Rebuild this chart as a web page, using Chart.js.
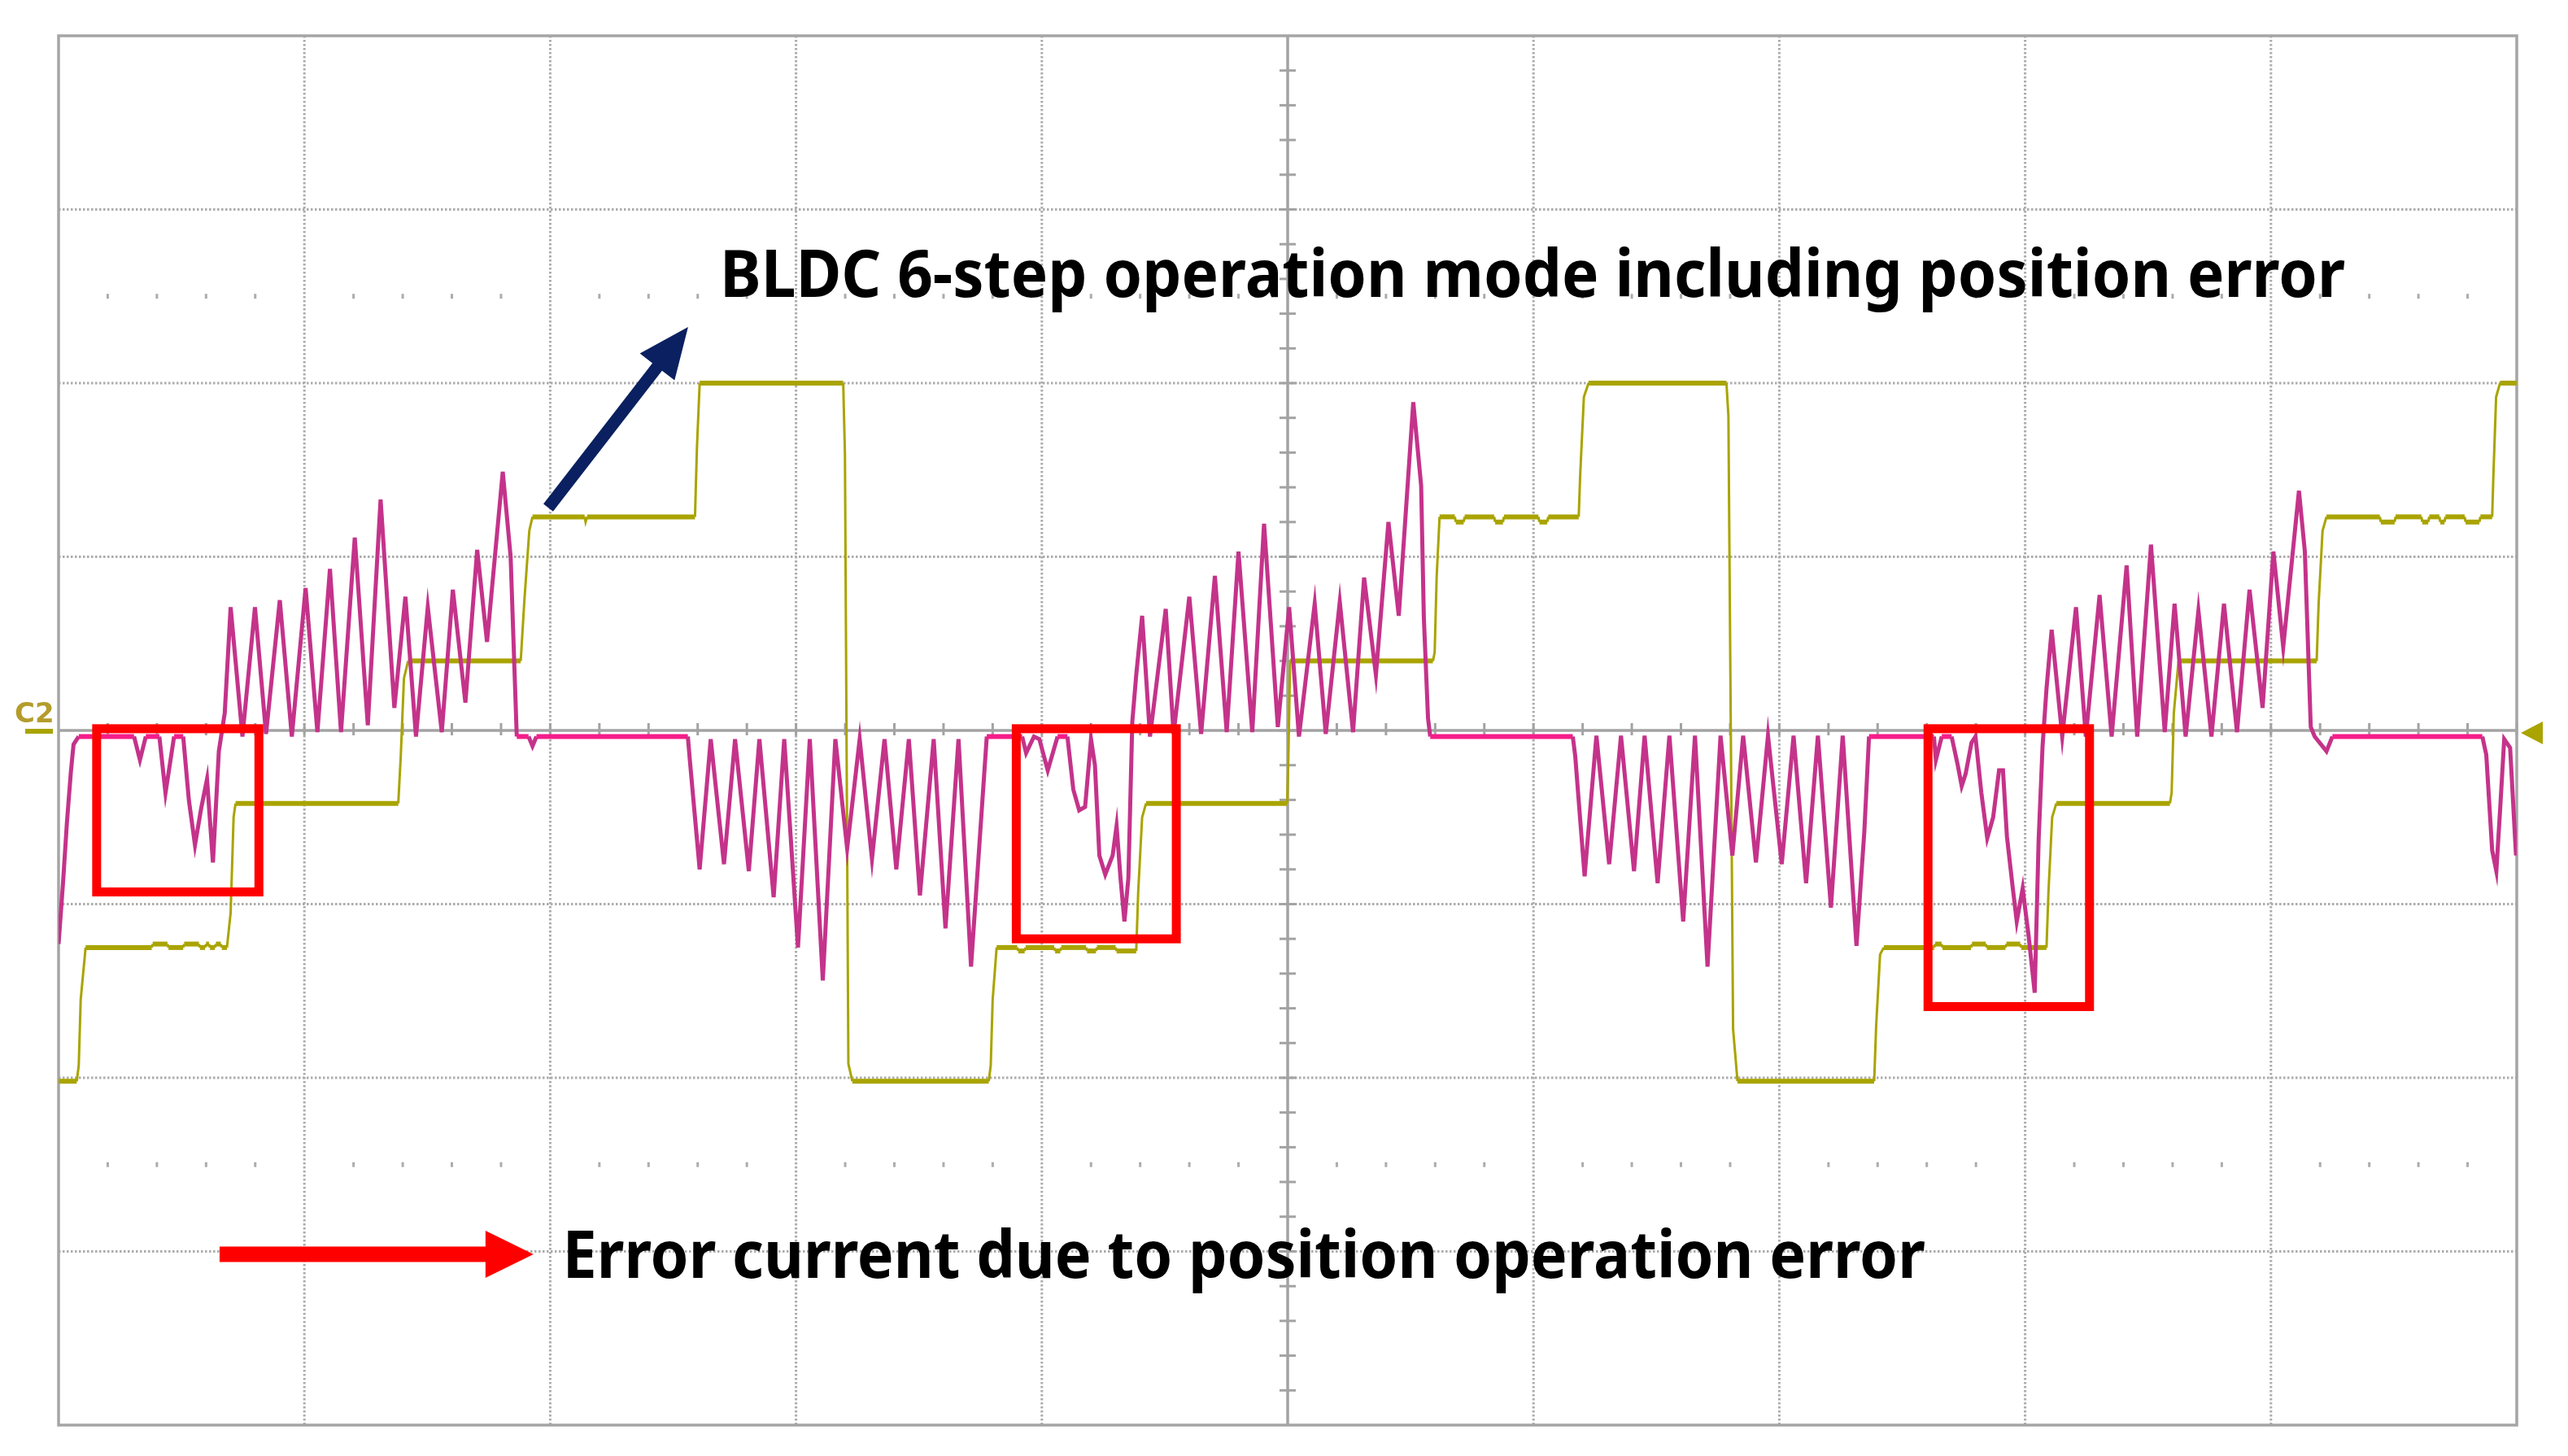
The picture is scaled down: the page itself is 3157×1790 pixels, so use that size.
<!DOCTYPE html>
<html>
<head>
<meta charset="utf-8">
<title>BLDC 6-step operation with position error</title>
<script src="https://cdn.jsdelivr.net/npm/chart.js@4.4.1/dist/chart.umd.min.js"></script>
<style>
  html, body { margin: 0; padding: 0; background: #ffffff; }
  #scope { display: block; }
</style>
</head>
<body>
<canvas id="scope" width="3157" height="1790"></canvas>
<script>
// Screen is 10 x 8 divisions, centre at (5, 0)
const xDivisions = [0, 1, 2, 3, 4, 5, 6, 7, 8, 9, 10];
const yDivisions = [-4, -3, -2, -1, 0, 1, 2, 3, 4];

// Yellow trace: 6-step phase voltage (time in div, level in div)
const stepTimes = [
  0.000, 0.074, 0.082, 0.090, 0.110, 0.379, 0.383, 0.443,
  0.447, 0.507, 0.511, 0.571, 0.575, 0.596, 0.600, 0.612,
  0.616, 0.636, 0.640, 0.660, 0.664, 0.685, 0.700, 0.712,
  0.720, 1.382, 1.392, 1.405, 1.422, 1.880, 1.895, 1.915,
  1.928, 2.140, 2.144, 2.150, 2.589, 2.597, 2.608, 3.192,
  3.199, 3.213, 3.229, 3.784, 3.792, 3.800, 3.816, 3.900,
  3.904, 3.930, 3.934, 4.050, 4.054, 4.075, 4.079, 4.180,
  4.184, 4.220, 4.224, 4.300, 4.304, 4.384, 4.392, 4.408,
  4.424, 4.998, 5.003, 5.010, 5.591, 5.598, 5.606, 5.618,
  5.680, 5.684, 5.716, 5.720, 5.840, 5.844, 5.876, 5.880,
  6.020, 6.024, 6.056, 6.060, 6.184, 6.190, 6.205, 6.224,
  6.785, 6.793, 6.812, 6.830, 7.386, 7.394, 7.410, 7.425,
  7.630, 7.634, 7.660, 7.664, 7.780, 7.784, 7.840, 7.844,
  7.920, 7.924, 7.980, 7.984, 8.087, 8.095, 8.110, 8.127,
  8.589, 8.596, 8.605, 8.624, 9.186, 9.194, 9.210, 9.226,
  9.443, 9.447, 9.503, 9.507, 9.612, 9.616, 9.640, 9.644,
  9.685, 9.689, 9.706, 9.710, 9.788, 9.792, 9.848, 9.852,
  9.900, 9.905, 9.916, 9.932, 10.000
];
const stepLevels = [
  -2.02, -2.02, -1.93, -1.55, -1.25, -1.25, -1.23, -1.23,
  -1.25, -1.25, -1.23, -1.23, -1.25, -1.25, -1.23, -1.23,
  -1.25, -1.25, -1.23, -1.23, -1.25, -1.25, -1.05, -0.50,
  -0.42, -0.42, -0.15, 0.30, 0.40, 0.40, 0.75, 1.15,
  1.23, 1.23, 1.20, 1.23, 1.23, 1.63, 2.00, 2.00,
  1.59, -1.92, -2.02, -2.02, -1.93, -1.55, -1.25, -1.25,
  -1.27, -1.27, -1.25, -1.25, -1.27, -1.27, -1.25, -1.25,
  -1.27, -1.27, -1.25, -1.25, -1.27, -1.27, -0.93, -0.50,
  -0.42, -0.42, -0.15, 0.40, 0.40, 0.45, 0.88, 1.23,
  1.23, 1.20, 1.20, 1.23, 1.23, 1.20, 1.20, 1.23,
  1.23, 1.20, 1.20, 1.23, 1.23, 1.47, 1.92, 2.00,
  2.00, 1.81, -1.72, -2.02, -2.02, -1.70, -1.29, -1.25,
  -1.25, -1.23, -1.23, -1.25, -1.25, -1.23, -1.23, -1.25,
  -1.25, -1.23, -1.23, -1.25, -1.25, -0.93, -0.50, -0.42,
  -0.42, -0.36, 0.10, 0.40, 0.40, 0.73, 1.15, 1.23,
  1.23, 1.20, 1.20, 1.23, 1.23, 1.20, 1.20, 1.23,
  1.23, 1.20, 1.20, 1.23, 1.23, 1.20, 1.20, 1.23,
  1.23, 1.47, 1.92, 2.00, 2.00
];

// Magenta trace: phase current (time in div, level in div)
const currentTimes = [
  0.000, 0.018, 0.034, 0.050, 0.061, 0.082, 0.307, 0.331,
  0.355, 0.410, 0.435, 0.470, 0.507, 0.530, 0.555, 0.580,
  0.604, 0.628, 0.652, 0.676, 0.700, 0.748, 0.799, 0.844,
  0.900, 0.949, 1.005, 1.053, 1.104, 1.149, 1.205, 1.258,
  1.310, 1.366, 1.411, 1.454, 1.502, 1.559, 1.604, 1.655,
  1.703, 1.743, 1.807, 1.839, 1.864, 1.912, 1.928, 1.944,
  2.560, 2.568, 2.608, 2.653, 2.707, 2.752, 2.808, 2.851,
  2.909, 2.952, 3.008, 3.056, 3.109, 3.160, 3.208, 3.259,
  3.309, 3.360, 3.408, 3.459, 3.504, 3.560, 3.608, 3.661,
  3.712, 3.776, 3.920, 3.936, 3.968, 3.990, 4.024, 4.064,
  4.104, 4.128, 4.152, 4.176, 4.200, 4.216, 4.234, 4.258,
  4.288, 4.304, 4.320, 4.336, 4.352, 4.368, 4.384, 4.408,
  4.440, 4.504, 4.536, 4.600, 4.648, 4.704, 4.752, 4.800,
  4.856, 4.904, 4.960, 5.006, 5.046, 5.110, 5.155, 5.212,
  5.266, 5.311, 5.359, 5.410, 5.452, 5.511, 5.543, 5.554,
  5.571, 5.580, 6.160, 6.170, 6.208, 6.256, 6.308, 6.356,
  6.409, 6.452, 6.505, 6.553, 6.609, 6.657, 6.708, 6.761,
  6.809, 6.853, 6.905, 6.954, 7.010, 7.058, 7.109, 7.157,
  7.210, 7.258, 7.314, 7.346, 7.365, 7.629, 7.637, 7.661,
  7.701, 7.726, 7.742, 7.758, 7.782, 7.798, 7.822, 7.846,
  7.870, 7.894, 7.910, 7.926, 7.950, 7.966, 7.990, 8.014,
  8.039, 8.055, 8.071, 8.087, 8.108, 8.151, 8.207, 8.247,
  8.303, 8.352, 8.413, 8.456, 8.512, 8.568, 8.608, 8.653,
  8.705, 8.758, 8.809, 8.862, 8.913, 8.966, 9.010, 9.050,
  9.114, 9.138, 9.162, 9.178, 9.226, 9.250, 9.860, 9.876,
  9.900, 9.917, 9.933, 9.949, 9.973, 9.997
];
const currentLevels = [
  -1.23, -0.88, -0.53, -0.24, -0.08, -0.035, -0.035, -0.17,
  -0.035, -0.035, -0.36, -0.035, -0.035, -0.40, -0.66, -0.45,
  -0.28, -0.76, -0.12, 0.10, 0.71, -0.035, 0.71, -0.02,
  0.75, -0.035, 0.82, -0.01, 0.93, -0.01, 1.11, 0.03,
  1.33, 0.13, 0.77, -0.035, 0.71, -0.01, 0.81, 0.16,
  1.04, 0.51, 1.49, 1.00, -0.035, -0.035, -0.09, -0.035,
  -0.035, -0.17, -0.80, -0.05, -0.77, -0.05, -0.81, -0.05,
  -0.96, -0.05, -1.25, -0.05, -1.44, -0.05, -0.68, -0.05,
  -0.74, -0.05, -0.80, -0.05, -0.95, -0.05, -1.14, -0.05,
  -1.36, -0.035, -0.035, -0.13, -0.035, -0.05, -0.23, -0.035,
  -0.035, -0.34, -0.46, -0.44, -0.05, -0.20, -0.72, -0.83,
  -0.72, -0.55, -0.85, -1.10, -0.85, 0.05, 0.32, 0.66,
  -0.035, 0.70, -0.02, 0.77, -0.02, 0.89, -0.01, 1.03,
  -0.01, 1.19, 0.02, 0.71, -0.035, 0.73, -0.02, 0.74,
  -0.01, 0.88, 0.32, 1.20, 0.66, 1.89, 1.41, 0.65,
  0.07, -0.035, -0.035, -0.15, -0.84, -0.03, -0.77, -0.03,
  -0.81, -0.03, -0.88, -0.03, -1.10, -0.03, -1.36, -0.03,
  -0.72, -0.03, -0.76, -0.03, -0.77, -0.03, -0.88, -0.03,
  -1.02, -0.03, -1.24, -0.58, -0.035, -0.035, -0.17, -0.035,
  -0.035, -0.20, -0.32, -0.25, -0.07, -0.035, -0.36, -0.62,
  -0.50, -0.23, -0.23, -0.61, -0.91, -1.10, -0.91, -1.18,
  -1.51, -0.63, -0.09, 0.24, 0.58, -0.035, 0.71, -0.035,
  0.78, -0.035, 0.95, -0.035, 1.07, -0.01, 0.73, -0.035,
  0.69, -0.035, 0.73, -0.01, 0.81, 0.13, 1.03, 0.48,
  1.38, 1.03, 0.02, -0.035, -0.12, -0.035, -0.035, -0.14,
  -0.69, -0.81, -0.44, -0.05, -0.10, -0.72
];

// Annotation layout (scope divisions)
const errorBoxes = [
  { x0: 0.155, x1: 0.815, y0: 0.01, y1: -0.93 },
  { x0: 3.896, x1: 4.547, y0: 0.01, y1: -1.20 },
  { x0: 7.605, x1: 8.262, y0: 0.01, y1: -1.59 }
];
const modeLabel = { text: 'BLDC 6-step operation mode including position error', x0: 2.690, x1: 9.302, y: 2.497 };
const errorLabel = { text: 'Error current due to position operation error', x0: 2.050, x1: 7.594, y: -3.152 };
const modeArrow = { x0: 1.992, y0: 1.283, x1: 2.561, y1: 2.323 };
const errorArrow = { x0: 0.655, y0: -3.016, x1: 1.932, y1: -3.016 };

function toPoints(times, levels) {
  return times.map((t, i) => ({ x: t, y: levels[i] }));
}

function strokeLine(ctx, x0, y0, x1, y1) {
  ctx.beginPath();
  ctx.moveTo(x0, y0);
  ctx.lineTo(x1, y1);
  ctx.stroke();
}

// Block arrow from (x0,y0) to the tip at (x1,y1), in pixels
function drawArrow(ctx, x0, y0, x1, y1, shaft, headLen, headHalf, color) {
  const len = Math.hypot(x1 - x0, y1 - y0);
  ctx.save();
  ctx.translate(x0, y0);
  ctx.rotate(Math.atan2(y1 - y0, x1 - x0));
  ctx.fillStyle = color;
  ctx.beginPath();
  ctx.moveTo(0, -shaft / 2);
  ctx.lineTo(len - headLen, -shaft / 2);
  ctx.lineTo(len - headLen, -headHalf);
  ctx.lineTo(len, 0);
  ctx.lineTo(len - headLen, headHalf);
  ctx.lineTo(len - headLen, shaft / 2);
  ctx.lineTo(0, shaft / 2);
  ctx.closePath();
  ctx.fill();
  ctx.restore();
}

// Text squeezed to span exactly left..right
function drawFittedText(ctx, text, left, right, baseline, size) {
  ctx.font = 'bold ' + size + 'px "Noto Sans"';
  ctx.textBaseline = 'alphabetic';
  ctx.textAlign = 'left';
  const w = ctx.measureText(text).width;
  ctx.save();
  ctx.translate(left, baseline);
  ctx.scale((right - left) / w, 1);
  ctx.fillStyle = '#000000';
  ctx.fillText(text, 0, 0);
  ctx.restore();
}

/**
 * Oscilloscope graticule: dotted divisions, solid centre cross with minor ticks
 */
const scopeGrid = {
  id: 'scopeGrid',
  beforeDatasetsDraw(chart) {
    const { ctx, chartArea: a, scales: { x, y } } = chart;
    ctx.save();

    // dotted division lines
    ctx.strokeStyle = '#acacac';
    ctx.lineWidth = 3;
    ctx.setLineDash([2.5, 2.5]);
    xDivisions.forEach(t => {
      if (t === 0 || t === 5 || t === 10) return;
      const px = x.getPixelForValue(t);
      strokeLine(ctx, px, a.top, px, a.bottom);
    });
    yDivisions.forEach(v => {
      if (v === 0 || Math.abs(v) === 4) return;
      const py = y.getPixelForValue(v);
      strokeLine(ctx, a.left, py, a.right, py);
    });
    ctx.setLineDash([]);

    // rows of minor dots at +/- 2.5 div
    ctx.fillStyle = '#acacac';
    [2.5, -2.5].forEach(v => {
      const py = y.getPixelForValue(v);
      for (let t = 0.2; t < 10; t += 0.2) {
        if (Math.abs(t - Math.round(t)) < 0.01) continue;
        ctx.fillRect(x.getPixelForValue(t) - 1.5, py - 3, 3, 6);
      }
    });

    // centre cross
    const cx = x.getPixelForValue(5);
    const cy = y.getPixelForValue(0);
    ctx.strokeStyle = '#a3a3a3';
    ctx.lineWidth = 3.5;
    strokeLine(ctx, a.left, cy, a.right, cy);
    strokeLine(ctx, cx, a.top, cx, a.bottom);

    // minor ticks on the centre cross
    ctx.lineWidth = 3;
    for (let t = 0.2; t < 10; t += 0.2) {
      const px = x.getPixelForValue(t);
      strokeLine(ctx, px, cy - 9, px, cy + 6);
    }
    for (let v = -3.8; v < 4; v += 0.2) {
      const py = y.getPixelForValue(v);
      strokeLine(ctx, cx - 10, py, cx + 10, py);
    }

    // frame
    ctx.strokeStyle = '#a5a5a5';
    ctx.lineWidth = 3.5;
    ctx.strokeRect(a.left, a.top, a.right - a.left, a.bottom - a.top);
    ctx.restore();
  }
};

/**
 * Channel markers, red boxes, arrows and captions
 */
const scopeNotes = {
  id: 'scopeNotes',
  afterDatasetsDraw(chart) {
    const { ctx, chartArea: a, scales: { x, y } } = chart;
    const cy = y.getPixelForValue(0);
    ctx.save();

    // channel label and offset marker on the left
    ctx.fillStyle = '#b49c2c';
    ctx.font = 'bold 34px "DejaVu Sans"';
    ctx.textBaseline = 'alphabetic';
    ctx.fillText('C2', 18, cy - 10);
    ctx.fillStyle = '#a9a400';
    ctx.fillRect(31, cy - 2, 34, 6);

    // trigger marker on the right
    ctx.beginPath();
    ctx.moveTo(a.right + 5, cy + 3);
    ctx.lineTo(a.right + 32, cy - 11);
    ctx.lineTo(a.right + 32, cy + 17);
    ctx.closePath();
    ctx.fill();

    // error boxes
    ctx.strokeStyle = '#ff0000';
    ctx.lineWidth = 11;
    errorBoxes.forEach(b => {
      const l = x.getPixelForValue(b.x0), r = x.getPixelForValue(b.x1);
      const t = y.getPixelForValue(b.y0), btm = y.getPixelForValue(b.y1);
      ctx.strokeRect(l, t, r - l, btm - t);
    });

    // arrows
    drawArrow(ctx, x.getPixelForValue(modeArrow.x0), y.getPixelForValue(modeArrow.y0),
      x.getPixelForValue(modeArrow.x1), y.getPixelForValue(modeArrow.y1), 15, 62, 27, '#0b2060');
    drawArrow(ctx, x.getPixelForValue(errorArrow.x0), y.getPixelForValue(errorArrow.y0),
      x.getPixelForValue(errorArrow.x1), y.getPixelForValue(errorArrow.y1), 19, 59, 29, '#ff0000');

    // captions
    drawFittedText(ctx, modeLabel.text, x.getPixelForValue(modeLabel.x0), x.getPixelForValue(modeLabel.x1),
      y.getPixelForValue(modeLabel.y), 80);
    drawFittedText(ctx, errorLabel.text, x.getPixelForValue(errorLabel.x0), x.getPixelForValue(errorLabel.x1),
      y.getPixelForValue(errorLabel.y), 80);
    ctx.restore();
  }
};

const isFlat = c => c.p0.parsed.y === c.p1.parsed.y;
const isIdle = c => isFlat(c) && Math.abs(c.p0.parsed.y + 0.035) < 0.002;

new Chart(document.getElementById('scope'), {
  type: 'line',
  data: {
    datasets: [
      {
        label: 'Phase current',
        data: toPoints(currentTimes, currentLevels),
        borderColor: '#c4338a',
        borderWidth: 5,
        pointRadius: 0,
        tension: 0,
        order: 0,
        segment: {
          borderColor: c => isIdle(c) ? '#f51d8a' : '#c4338a',
          borderWidth: c => isIdle(c) ? 6 : 5
        }
      },
      {
        label: 'Phase voltage',
        data: toPoints(stepTimes, stepLevels),
        borderColor: '#a9a400',
        borderWidth: 4,
        pointRadius: 0,
        tension: 0,
        order: 1,
        segment: {
          borderWidth: c => isFlat(c) ? 6 : 3
        }
      }
    ]
  },
  options: {
    responsive: false,
    animation: false,
    devicePixelRatio: 1,
    events: [],
    layout: { padding: { left: 72, right: 63, top: 44, bottom: 38 } },
    scales: {
      x: { type: 'linear', min: 0, max: 10, display: false },
      y: { type: 'linear', min: -4, max: 4, display: false }
    },
    plugins: {
      legend: { display: false },
      tooltip: { enabled: false }
    }
  },
  plugins: [scopeGrid, scopeNotes]
});
</script>
</body>
</html>
